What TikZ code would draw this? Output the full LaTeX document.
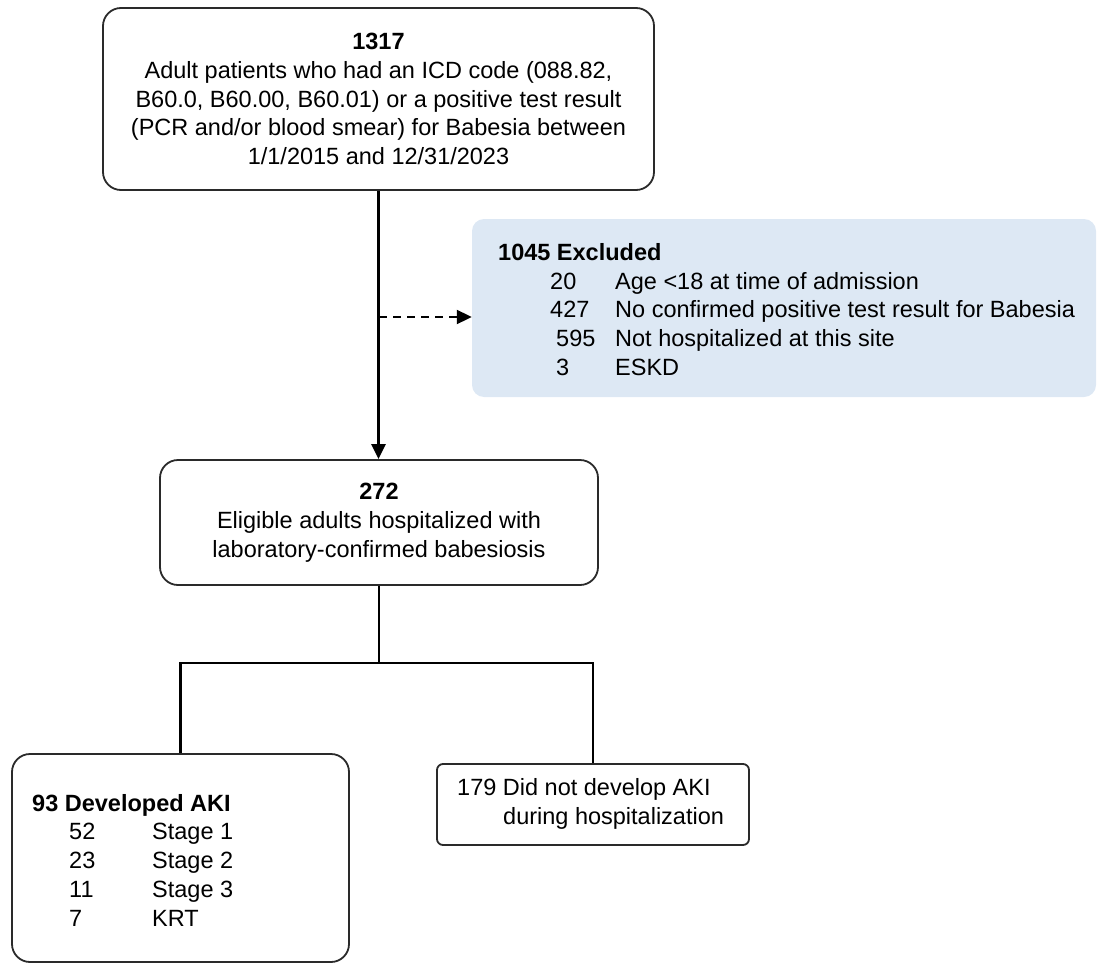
\documentclass[tikz,border=0pt]{standalone}
\usepackage{fontspec}
\setmainfont{Liberation Sans}
\usetikzlibrary{arrows.meta}
\definecolor{exclfill}{HTML}{DDE8F4}
\definecolor{boxline}{HTML}{2A2A2A}
\begin{document}
\begin{tikzpicture}[x=1pt,y=-1pt,
  every node/.style={font=\fontsize{23.5}{28.75}\selectfont, inner sep=0pt, text=black},
  box/.style={draw=boxline, line width=1.8pt, rounded corners=18pt, fill=white},
  conn/.style={line width=2.6pt, draw=black},
  tipped/.style={-{Triangle[length=15pt,width=14pt]}},
  dashedconn/.style={line width=2pt, draw=black, dash pattern=on 8pt off 6pt}]
\useasboundingbox (0,0) rectangle (1097,963);

% boxes
\node[box, minimum width=551pt, minimum height=182pt, align=center] (top) at (378.5,99)
  {\textbf{1317}\\Adult patients who had an ICD code (088.82,\\B60.0, B60.00, B60.01) or a positive test result\\(PCR and/or blood smear) for Babesia between\\1/1/2015 and 12/31/2023};

\node[fill=exclfill, rounded corners=12pt, minimum width=624pt, minimum height=178pt] (excl) at (784,308) {};
\node[anchor=west, align=left] (excltxt) at (498,309.5)
  {\textbf{1045 Excluded}\\
   \hspace*{52pt}\makebox[65pt][l]{20}Age <18 at time of admission\\
   \hspace*{52pt}\makebox[65pt][l]{427}No confirmed positive test result for Babesia\\
   \hspace*{58pt}\makebox[59pt][l]{595}Not hospitalized at this site\\
   \hspace*{58pt}\makebox[59pt][l]{3}ESKD};

\node[box, minimum width=438pt, minimum height=125pt, align=center] (mid) at (379,522.5)
  {\textbf{272}\\Eligible adults hospitalized with\\laboratory-confirmed babesiosis};

\node[box, minimum width=337pt, minimum height=208pt] (aki) at (180.5,858) {};
\node[anchor=west, align=left] (akitxt) at (32,860)
  {\textbf{93 Developed AKI}\\
   \hspace*{37pt}\makebox[83pt][l]{52}Stage 1\\
   \hspace*{37pt}\makebox[83pt][l]{23}Stage 2\\
   \hspace*{37pt}\makebox[83pt][l]{11}Stage 3\\
   \hspace*{37pt}\makebox[83pt][l]{7}KRT};

\node[box, rounded corners=6pt, minimum width=312pt, minimum height=81pt] (noaki) at (593,804.5) {};
\node[anchor=west, align=left] (noakitxt) at (457,804)
  {179 Did not develop AKI\\\hspace*{46pt}during hospitalization};

% connectors
\coordinate (split) at (379,317);
\coordinate (jn) at (379,663);
\draw[conn, tipped] (top.south) -- (top.south |- mid.north);
\draw[dashedconn, tipped] (split) -- (split -| excl.west);
\draw[conn] (mid.south) -- (mid.south |- jn);
\draw[conn] (aki.north) |- (jn) -| (noaki.north);
\end{tikzpicture}
\end{document}
